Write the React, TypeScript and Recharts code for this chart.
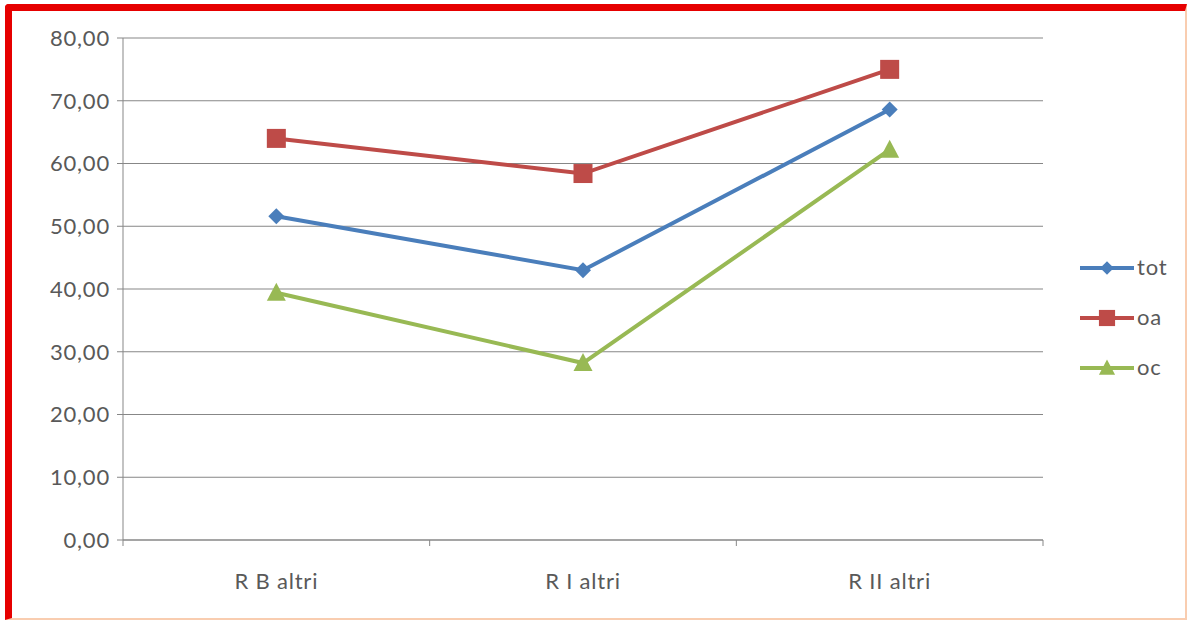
import { LineChart, Line, XAxis, YAxis, CartesianGrid } from 'recharts';

const categories = ['R B altri', 'R I altri', 'R II altri'];
const tot = [51.6, 43.0, 68.6];
const oa = [64.0, 58.4, 75.0];
const oc = [39.4, 28.2, 62.2];
const yTicks = [0, 10, 20, 30, 40, 50, 60, 70, 80];

const data = categories.map((name, i) => ({ name, tot: tot[i], oa: oa[i], oc: oc[i] }));

const W = 1190;
const H = 622;
const M = { top: 38, right: 147, bottom: 32, left: 0 };
const Y_W = 123;
const band = (W - M.left - M.right - Y_W) / categories.length;
const FONT = 'Lato, "Open Sans", sans-serif';
const TXT = '#595959';
const GRID = '#878787';
const FS = 22;
const LS = 0.8;

const series = [
  { key: 'tot', color: '#4a7ebb', shape: 'diamond' },
  { key: 'oa', color: '#be4b48', shape: 'square' },
  { key: 'oc', color: '#98b954', shape: 'triangle' },
];

function Marker({ cx, cy, shape, color, s = 1 }: any) {
  if (cx == null || cy == null) return null;
  if (shape === 'diamond') {
    const r = 8 * s;
    return <polygon points={`${cx},${cy - r} ${cx + r},${cy} ${cx},${cy + r} ${cx - r},${cy}`} fill={color} />;
  }
  if (shape === 'square') {
    const r = 9.5 * s;
    return <rect x={cx - r} y={cy - r} width={r * 2} height={r * 2} fill={color} />;
  }
  const r = 10 * s;
  return <polygon points={`${cx},${cy - r} ${cx + r * 0.95},${cy + r * 0.8} ${cx - r * 0.95},${cy + r * 0.8}`} fill={color} />;
}

function XTick({ x, y, payload, index }: any) {
  const last = index === categories.length - 1;
  return (
    <g>
      <line x1={x - band / 2} x2={x - band / 2} y1={y - 8} y2={y - 2} stroke={GRID} />
      {last && <line x1={x + band / 2} x2={x + band / 2} y1={y - 8} y2={y - 2} stroke={GRID} />}
      <text x={x} y={y + 41} textAnchor="middle" fill={TXT} fontSize={FS} fontFamily={FONT} letterSpacing={LS}>
        {payload.value}
      </text>
    </g>
  );
}

function LegendBox() {
  return (
    <div style={{ position: 'absolute', left: 1080, top: 243, fontFamily: FONT, fontSize: FS, color: TXT, letterSpacing: LS }}>
      {series.map((s) => (
        <div key={s.key} style={{ display: 'flex', alignItems: 'center', height: 50 }}>
          <svg width={56} height={24}>
            <line x1={0} x2={54} y1={12} y2={12} stroke={s.color} strokeWidth={4} />
            <Marker cx={27} cy={12} shape={s.shape} color={s.color} s={0.85} />
          </svg>
          <span style={{ marginLeft: 1, marginTop: -4 }}>{s.key}</span>
        </div>
      ))}
    </div>
  );
}

export default function App() {
  return (
    <div style={{ position: 'absolute', left: 0, top: 0, width: W, height: H, background: '#fff' }}>
      <div
        style={{
          position: 'absolute', left: 5, top: 4, width: 1182, height: 616, boxSizing: 'border-box',
          borderTop: '7px solid #e60000', borderLeft: '7px solid #e60000',
          borderRight: '2px solid #f9cdb0', borderBottom: '2px solid #f9cdb0', borderTopLeftRadius: 4,
        }}
      />
      <div style={{ position: 'absolute', left: 0, top: 0 }}>
        <LineChart width={W} height={H} data={data} margin={M}>
          <CartesianGrid vertical={false} stroke={GRID} strokeWidth={1} />
          <XAxis
            dataKey="name"
            scale="band"
            height={50}
            axisLine={{ stroke: GRID }}
            tickLine={false}
            tick={<XTick />}
            interval={0}
          />
          <YAxis
            width={Y_W}
            domain={[0, 80]}
            ticks={yTicks}
            interval={0}
            tickFormatter={(v: number) => v.toFixed(2).replace('.', ',')}
            axisLine={{ stroke: GRID }}
            tickLine={{ stroke: GRID }}
            tickSize={6}
            tickMargin={7}
            tick={{ fill: TXT, fontSize: FS, fontFamily: FONT, letterSpacing: LS }}
          />
          {series.map((s) => (
            <Line
              key={s.key}
              dataKey={s.key}
              stroke={s.color}
              strokeWidth={4}
              isAnimationActive={false}
              dot={(p: any) => <Marker key={`${s.key}-${p.index}`} cx={p.cx} cy={p.cy} shape={s.shape} color={s.color} />}
              activeDot={false}
            />
          ))}
        </LineChart>
      </div>
      <LegendBox />
    </div>
  );
}
